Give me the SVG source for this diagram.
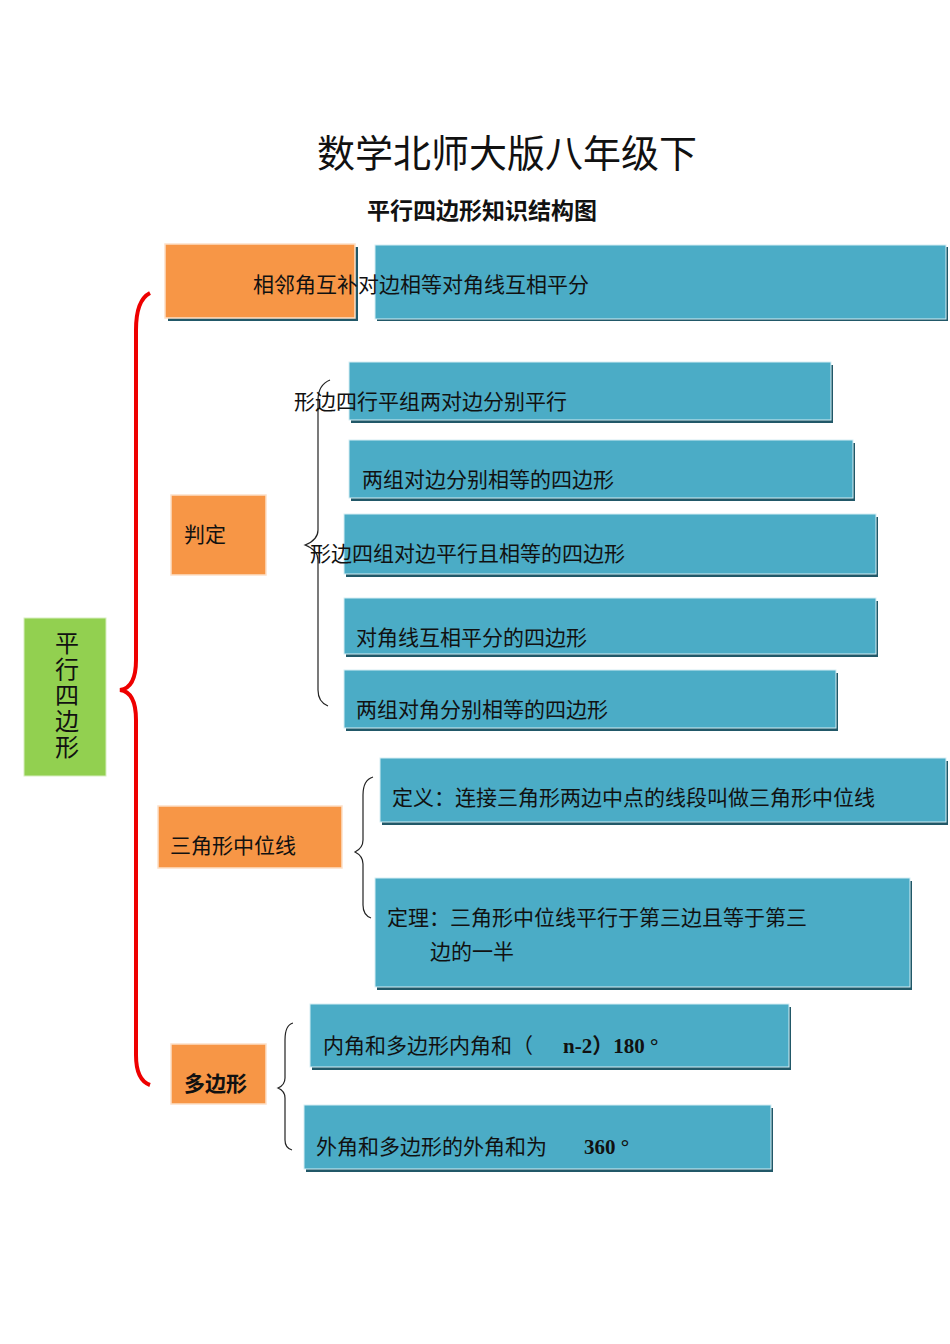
<svg xmlns="http://www.w3.org/2000/svg" width="950" height="1344" viewBox="0 0 950 1344">
<style>
text{font-family:"Liberation Serif","Noto Sans CJK SC",serif;fill:#111}
.o{fill:#f79646;stroke:#fde0c8;stroke-width:1.5}
.b{fill:#4bacc6;stroke:#d6eef4;stroke-width:1}
.s{fill:#215868}
.t{font-size:21px}
.br{fill:none;stroke:#222;stroke-width:1.2}
</style>
<rect width="950" height="1344" fill="#fff"/>
<text x="507" y="167" font-size="38" text-anchor="middle" font-family="Noto Sans CJK SC,sans-serif">数学北师大版八年级下</text>
<text x="482" y="219" font-size="23" font-weight="bold" text-anchor="middle" font-family="Noto Sans CJK SC,sans-serif">平行四边形知识结构图</text>
<g id="connectors">
<path d="M150 293 Q136 300 136 330 L136 660 Q136 688 120 690 Q136 692 136 720 L136 1055 Q136 1080 150 1085" fill="none" stroke="#e00" stroke-width="4"/>
<path class="br" d="M330 380 Q318 385 318 400 L318 530 Q318 540 305 545 Q318 550 318 560 L318 690 Q318 702 328 706"/>
<path class="br" d="M373 777 Q363 780 363 795 L363 840 Q363 848 355 852 Q363 856 363 864 L363 905 Q363 915 371 918"/>
<path class="br" d="M293 1023 Q285 1025 285 1040 L285 1078 Q285 1085 278 1088 Q285 1091 285 1098 L285 1140 Q285 1148 292 1150"/>
</g>
<g id="n-root"><rect x="24" y="618" width="82" height="158" fill="#92d050" stroke="#d8eec0"/>
<text x="67" y="652" font-size="24" text-anchor="middle"><tspan x="67">平</tspan><tspan x="67" dy="26">行</tspan><tspan x="67" dy="26">四</tspan><tspan x="67" dy="26">边</tspan><tspan x="67" dy="26">形</tspan></text></g>
<g id="n-prop"><rect class="s" x="168" y="247" width="190" height="74"/><rect class="o" x="165" y="244" width="190" height="74"/>
<rect class="s" x="377" y="247" width="571" height="74"/><rect class="b" x="375" y="245" width="571" height="74"/>
<text class="t" x="253" y="292">相邻角互补对边相等对角线互相平分</text></g>
<g id="n-judge"><rect class="o" x="171" y="495" width="95" height="80"/><text class="t" x="184" y="542">判定</text></g>
<g id="n-j1"><rect class="s" x="351" y="365" width="482" height="58"/><rect class="b" x="349" y="362" width="482" height="58"/><text class="t" x="294" y="409">形边四行平组两对边分别平行</text></g>
<g id="n-j2"><rect class="s" x="351" y="443" width="504" height="58"/><rect class="b" x="349" y="440" width="504" height="58"/><text class="t" x="362" y="487">两组对边分别相等的四边形</text></g>
<g id="n-j3"><rect class="s" x="346" y="517" width="532" height="60"/><rect class="b" x="344" y="514" width="532" height="60"/><text class="t" x="310" y="561">形边四组对边平行且相等的四边形</text></g>
<g id="n-j4"><rect class="s" x="346" y="601" width="532" height="56"/><rect class="b" x="344" y="598" width="532" height="56"/><text class="t" x="356" y="645">对角线互相平分的四边形</text></g>
<g id="n-j5"><rect class="s" x="346" y="673" width="492" height="58"/><rect class="b" x="344" y="670" width="492" height="58"/><text class="t" x="356" y="717">两组对角分别相等的四边形</text></g>
<g id="n-mid"><rect class="o" x="158" y="806" width="184" height="62"/><text class="t" x="170" y="853">三角形中位线</text></g>
<g id="n-m1"><rect class="s" x="382" y="761" width="566" height="64"/><rect class="b" x="380" y="758" width="566" height="64"/><text class="t" x="392" y="805">定义：连接三角形两边中点的线段叫做三角形中位线</text></g>
<g id="n-m2"><rect class="s" x="377" y="881" width="535" height="109"/><rect class="b" x="375" y="878" width="535" height="109"/><text class="t" x="387" y="925">定理：三角形中位线平行于第三边且等于第三</text><text class="t" x="430" y="959">边的一半</text></g>
<g id="n-poly"><rect class="o" x="171" y="1044" width="95" height="60"/><text class="t" x="184" y="1091" font-weight="bold">多边形</text></g>
<g id="n-p1"><rect class="s" x="312" y="1007" width="479" height="63"/><rect class="b" x="310" y="1004" width="479" height="63"/><text class="t" x="323" y="1053">内角和多边形内角和（</text><text class="t" x="563" y="1053" font-weight="bold">n-2）180 °</text></g>
<g id="n-p2"><rect class="s" x="306" y="1108" width="467" height="64"/><rect class="b" x="304" y="1105" width="467" height="64"/><text class="t" x="316" y="1154">外角和多边形的外角和为</text><text class="t" x="584" y="1154" font-weight="bold">360 °</text></g>
</svg>
